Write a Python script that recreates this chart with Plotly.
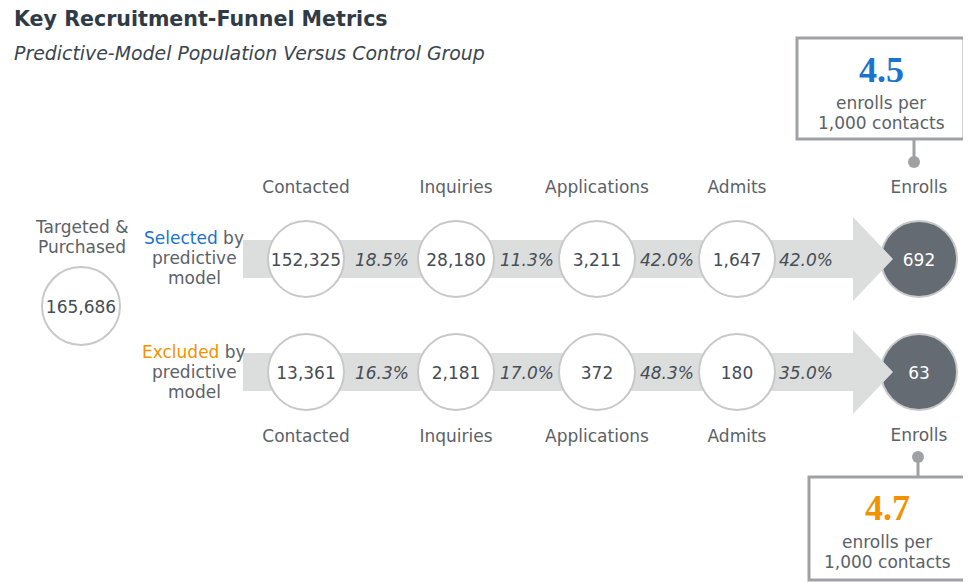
#!/usr/bin/env python
"""Key recruitment-funnel metrics: predictive-model population vs control group."""
import plotly.graph_objects as go

# data
stages = ["Contacted", "Inquiries", "Applications", "Admits", "Enrolls"]
targeted_total = 165686
selected_counts = [152325, 28180, 3211, 1647, 692]
excluded_counts = [13361, 2181, 372, 180, 63]
selected_rates = ["18.5%", "11.3%", "42.0%", "42.0%"]
excluded_rates = ["16.3%", "17.0%", "48.3%", "35.0%"]
selected_per_1000 = "4.5"
excluded_per_1000 = "4.7"

# layout (pixel space, y grows downward)
W, H = 971, 582
PAGE_PAD = 8  # the page body margin pushes the plot down/right
FONT = "DejaVu Sans"
STAGE_X = [306, 456, 597, 737, 919]
RATE_X = [382, 527, 667, 806]
ROW_Y = [259, 372]
R = 38
BAND_X0, HEAD_X0, TIP_X = 243, 853, 893
BAND_HALF, HEAD_HALF = 19, 42
TXT_DY = 3  # scatter text sits a little high

BLUE = "#1a73cc"
ORANGE = "#f39200"
TEXT = "#454d56"
LABEL = "#5b6168"
BAND = "#dcdddd"
RING = "#c8c8c8"
DARK = "#646b72"
BOXLINE = "#9fa1a4"

fig = go.Figure()


def arrow(y):
    xs = [BAND_X0, HEAD_X0, HEAD_X0, TIP_X, HEAD_X0, HEAD_X0, BAND_X0, BAND_X0]
    ys = [y - BAND_HALF, y - BAND_HALF, y - HEAD_HALF, y, y + HEAD_HALF,
          y + BAND_HALF, y + BAND_HALF, y - BAND_HALF]
    return go.Scatter(x=xs, y=ys, mode="lines", fill="toself", fillcolor=BAND,
                      line=dict(width=0), hoverinfo="skip")


# dark enroll circles sit under the arrow tips
fig.add_trace(go.Scatter(
    x=[STAGE_X[-1]] * 2, y=ROW_Y, mode="markers", hoverinfo="skip",
    marker=dict(size=2 * R, color=DARK, line=dict(color=RING, width=2)),
))
for y in ROW_Y:
    fig.add_trace(arrow(y))

# white stage circles
for row, counts in zip(ROW_Y, [selected_counts, excluded_counts]):
    fig.add_trace(go.Scatter(
        x=STAGE_X[:-1], y=[row] * 4, mode="markers", hoverinfo="skip",
        marker=dict(size=2 * R, color="white", line=dict(color=RING, width=2)),
    ))
    fig.add_trace(go.Scatter(
        x=STAGE_X[:-1], y=[row + TXT_DY] * 4, mode="text",
        text=[f"{c:,}" for c in counts[:-1]], hoverinfo="skip",
        textfont=dict(family=FONT, size=17, color=TEXT),
    ))
    fig.add_trace(go.Scatter(
        x=[STAGE_X[-1]], y=[row + TXT_DY], mode="text", text=[f"{counts[-1]:,}"],
        textfont=dict(family=FONT, size=17, color="white"), hoverinfo="skip",
    ))

# conversion rates
for row, rates in zip(ROW_Y, [selected_rates, excluded_rates]):
    fig.add_trace(go.Scatter(
        x=RATE_X, y=[row + TXT_DY] * 4, mode="text", text=rates, hoverinfo="skip",
        textfont=dict(family=FONT, size=17, color=TEXT, style="italic"),
    ))

# stage labels above and below
fig.add_trace(go.Scatter(
    x=STAGE_X + STAGE_X, y=[186 + TXT_DY] * 5 + [435 + TXT_DY] * 4 + [434 + TXT_DY],
    mode="text", text=stages + stages, hoverinfo="skip",
    textfont=dict(family=FONT, size=17, color=LABEL),
))

# targeted & purchased
fig.add_trace(go.Scatter(
    x=[81], y=[306], mode="markers", hoverinfo="skip",
    marker=dict(size=2 * R + 2, color="white", line=dict(color=RING, width=2)),
))
fig.add_trace(go.Scatter(
    x=[81], y=[306 + TXT_DY], mode="text", text=[f"{targeted_total:,}"],
    textfont=dict(family=FONT, size=17, color=TEXT), hoverinfo="skip",
))

# callout dots
fig.add_trace(go.Scatter(
    x=[914, 918], y=[162, 457], mode="markers", hoverinfo="skip",
    marker=dict(size=12, color=BOXLINE),
))


def note(x, y, text, size=17, color=LABEL, family=FONT, **kw):
    fig.add_annotation(x=x, y=y, text=text, showarrow=False, xref="x", yref="y",
                       font=dict(family=family, size=size, color=color), **kw)


note(82, 227, "Targeted &")
note(82, 247, "Purchased")

note(194, 238, f"<span style='color:{BLUE}'>Selected</span> by")
note(194, 258, "predictive")
note(194, 278, "model")
note(194, 352, f"<span style='color:{ORANGE}'>Excluded</span> by")
note(194, 372, "predictive")
note(194, 392, "model")

# title block
note(12, 19, "<b>Key Recruitment-Funnel Metrics</b>", size=20.6, color="#2f3b47",
     xanchor="left")
note(12, 53, "<i>Predictive-Model Population Versus Control Group</i>", size=18.9,
     color="#3a4550", xanchor="left")

# callout boxes
fig.add_shape(type="rect", x0=797, x1=964, y0=38, y1=139,
              line=dict(color=BOXLINE, width=3), fillcolor="white")
fig.add_shape(type="line", x0=914, x1=914, y0=139, y1=160,
              line=dict(color=BOXLINE, width=3))
note(881, 70, f"<b>{selected_per_1000}</b>", size=36, color=BLUE,
     family="Liberation Serif")
note(881, 103, "enrolls per")
note(881, 123, "1,000 contacts")

fig.add_shape(type="rect", x0=809, x1=965, y0=477, y1=580,
              line=dict(color=BOXLINE, width=3), fillcolor="white")
fig.add_shape(type="line", x0=918, x1=918, y0=459, y1=477,
              line=dict(color=BOXLINE, width=3))
note(887, 508, f"<b>{excluded_per_1000}</b>", size=36, color=ORANGE,
     family="Liberation Serif")
note(887, 542, "enrolls per")
note(887, 562, "1,000 contacts")

fig.update_xaxes(range=[PAGE_PAD, W + PAGE_PAD], visible=False, fixedrange=True)
fig.update_yaxes(range=[H + PAGE_PAD, PAGE_PAD], visible=False, fixedrange=True)
fig.update_layout(
    width=W, height=H, autosize=False, showlegend=False,
    margin=dict(l=0, r=0, t=0, b=0),
    paper_bgcolor="white", plot_bgcolor="white",
)

fig.write_html("out.html")
